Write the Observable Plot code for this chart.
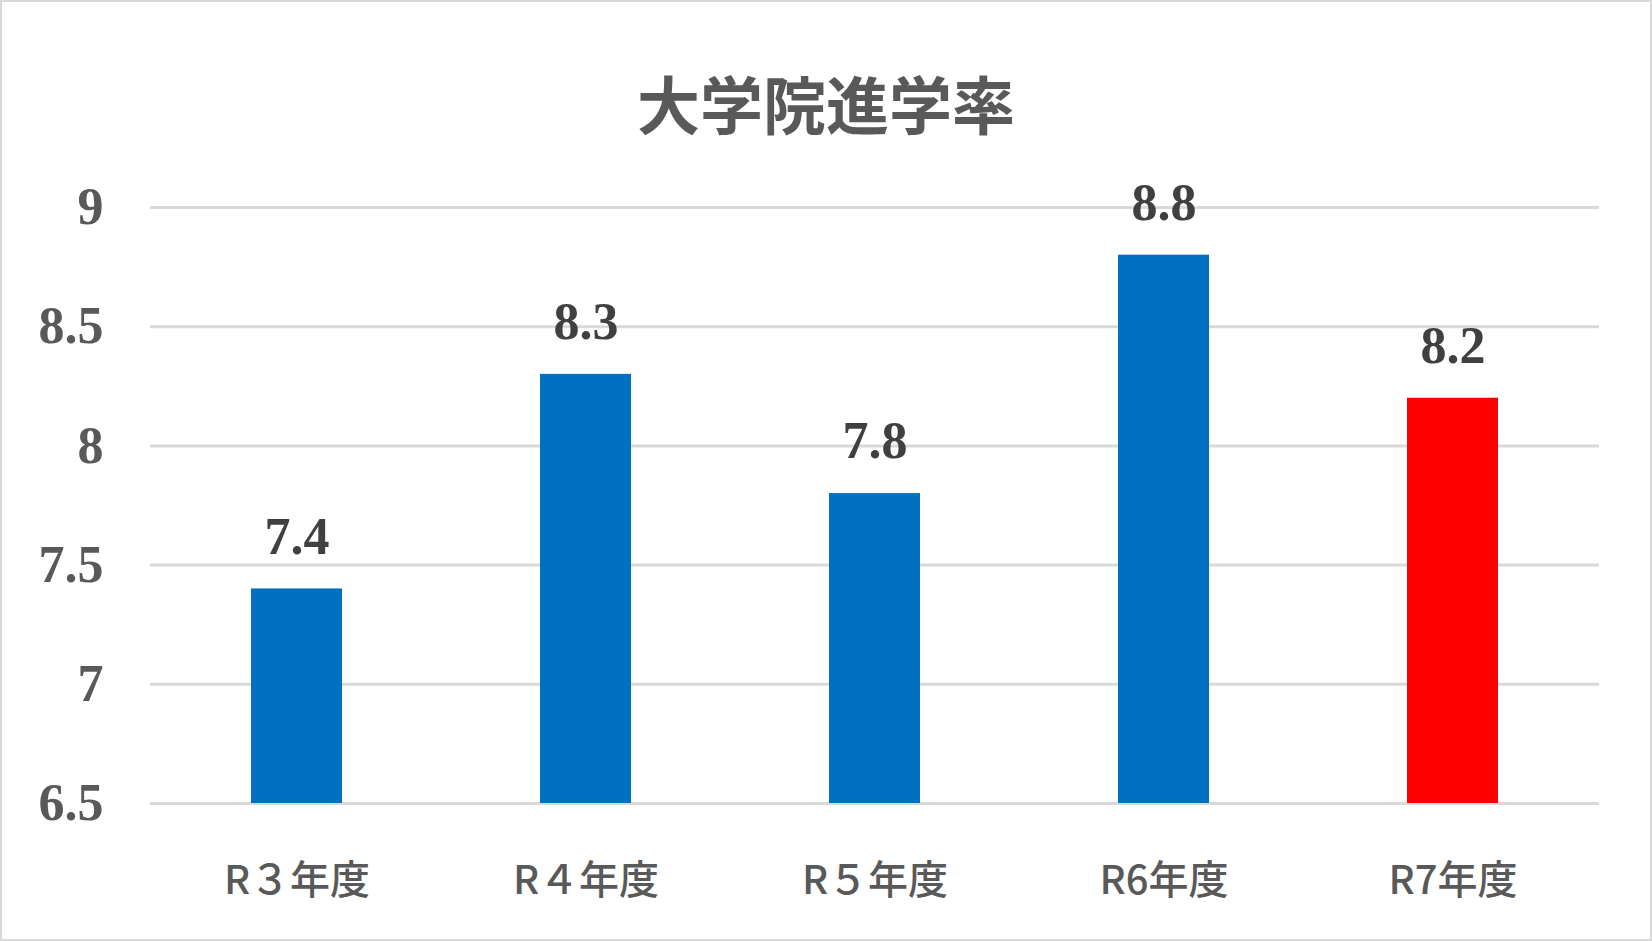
<!DOCTYPE html>
<html>
<head>
<meta charset="utf-8">
<script src="https://cdn.jsdelivr.net/npm/d3@7"></script>
<script src="https://cdn.jsdelivr.net/npm/@observablehq/plot@0.6"></script>
<style>
  html, body { margin: 0; padding: 0; background: #fff; }
  #wrap { position: relative; width: 1652px; height: 941px; overflow: hidden; background: #fff; }
  #frame { position: absolute; left: 0; top: 0; width: 1648px; height: 937px; border: 2px solid #d9d9d9; pointer-events: none; }
  #title { position: absolute; left: 0; top: 70px; width: 1652px; text-align: center;
           font-family: "Noto Sans CJK JP", sans-serif; font-weight: bold; font-size: 63px; line-height: 63px; color: #595959; }
  #chart { position: absolute; left: 0; top: 160px; }
</style>
</head>
<body>
<div id="wrap">
  <div id="title">大学院進学率</div>
  <div id="chart"></div>
  <div id="frame"></div>
</div>
<script>
const categories = ["R３年度", "R４年度", "R５年度", "R6年度", "R7年度"];
const values = [7.4, 8.3, 7.8, 8.8, 8.2];
const barColors = ["#0070C0", "#0070C0", "#0070C0", "#0070C0", "#FF0000"];
const yDomain = [6.5, 9];
const yTicks = [6.5, 7, 7.5, 8, 8.5, 9];
const yTickLabels = ["6.5", "7", "7.5", "8", "8.5", "9"];

const data = categories.map((c, i) => ({category: c, value: values[i], color: barColors[i], base: yDomain[0]}));

const chart = Plot.plot({
  width: 1652,
  height: 781,
  marginLeft: 150,
  marginRight: 53,
  marginTop: 47,
  marginBottom: 138,
  style: {background: "transparent", color: "#595959", fontSize: "40px", fontFamily: "\"Noto Sans CJK JP\", sans-serif"},
  x: {domain: categories, paddingInner: 0.686, paddingOuter: 0.343, label: null},
  y: {domain: yDomain, label: null},
  marks: [
    Plot.gridY(yTicks, {stroke: "#d9d9d9", strokeOpacity: 1, strokeWidth: 3}),
    Plot.barY(data, {x: "category", y1: "base", y2: "value", fill: "color"}),
    Plot.text(data, {x: "category", y: "value", text: d => d.value.toFixed(1), dy: -52, lineAnchor: "middle",
      fill: "#404040", fontSize: 52, fontWeight: "bold", fontFamily: "\"Liberation Serif\", serif"}),
    Plot.axisY(yTicks, {tickSize: 0, tickPadding: 47, tickFormat: (d, i) => yTickLabels[i],
      fontSize: 52, fontWeight: "bold", fontFamily: "\"Liberation Serif\", serif", fill: "#595959", label: null}),
    Plot.axisX({tickSize: 0, tickPadding: 62, fontSize: 40, fontWeight: 500, fill: "#595959", label: null})
  ]
});
document.getElementById("chart").appendChild(chart);
</script>
</body>
</html>
